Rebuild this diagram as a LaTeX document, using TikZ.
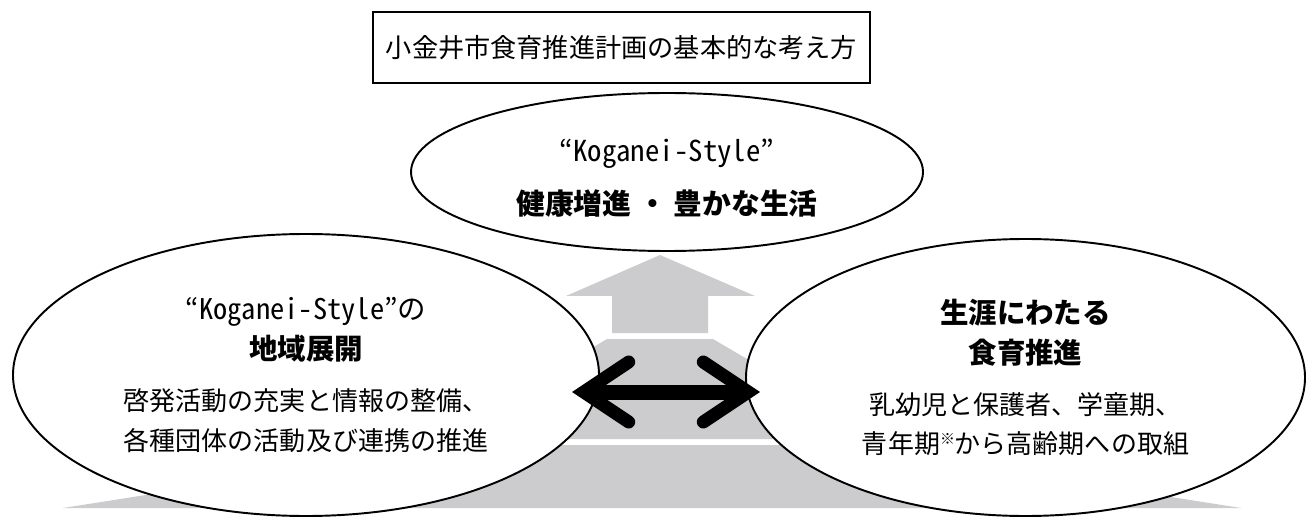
\documentclass[tikz,border=0pt]{standalone}
\usepackage{fontspec}
\setmainfont{Noto Sans CJK JP}
\newfontfamily\halfw[RawFeature=+hwid]{Noto Sans CJK JP}
\usetikzlibrary{shapes,arrows.meta}
\definecolor{stepgray}{RGB}{204,203,206}

\begin{document}
\begin{tikzpicture}[oval/.style={shape=ellipse,draw=black,fill=white,align=center,line width=1.1pt,inner sep=0pt,font=\fontsize{14.8}{22.5}\selectfont},
dbl/.style={line width=0.3cm,>={Straight Barb[length=0.9cm,width=1.2cm,line width=0.26cm,line cap=round,line join=miter]},<->}]
\useasboundingbox (0,0) rectangle (26.16,10.36);
\fill[stepgray] (1.26,0.2) -- (24.82,0.2) -- (16.8,1.46) -- (9.28,1.46) -- cycle;
\fill[stepgray] (8.74,1.58) -- (17.66,1.58) -- (14.26,3.58) -- (12.14,3.58) -- cycle;
\fill[stepgray] (12.24,3.7) -- (14.16,3.7) -- (14.16,4.44) -- (15.1,4.44) -- (13.2,5.26) -- (11.32,4.44) -- (12.24,4.44) -- cycle;
\node[shape=rectangle,draw=black,line width=1.1pt,minimum width=9.94cm,minimum height=1.42cm,font=\fontsize{14.9}{20}\selectfont] (0) at (12.43,9.41) {小金井市食育推進計画の基本的な考え方};
\node[oval,minimum width=10.24cm,minimum height=3.16cm,font=\fontsize{16.4}{22.5}\selectfont] (1) at (13.34,6.92) {\rule{0pt}{19.5pt}{\halfw “Koganei-Style”}\\[7.7pt]{\bfseries 健康増進 ・ 豊かな生活}};
\node[oval,minimum width=11.72cm,minimum height=5.64cm] (2) at (6.12,2.86) {{\fontsize{16.2}{22.5}\selectfont{\halfw “Koganei-Style”}の}\\{\fontsize{16.2}{22.5}\selectfont\bfseries 地域展開}\\[6.5pt]啓発活動の充実と情報の整備、\\各種団体の活動及び連携の推進};
\node[oval,minimum width=11.18cm,minimum height=5.54cm] (3) at (20.51,2.81) {{\fontsize{16.2}{22.5}\selectfont\bfseries 生涯にわたる}\\{\fontsize{16.2}{22.5}\selectfont\bfseries 食育推進}\\[6.5pt]乳幼児と保護者、学童期、\\青年期\raisebox{0.35em}{\fontsize{8.5}{8.5}\selectfont ※}から高齢期への取組};
\coordinate (4) at (11.44,2.52);
\coordinate (5) at (15.2,2.52);
\draw[dbl] (4) -- (5);

\end{tikzpicture}
\end{document}
